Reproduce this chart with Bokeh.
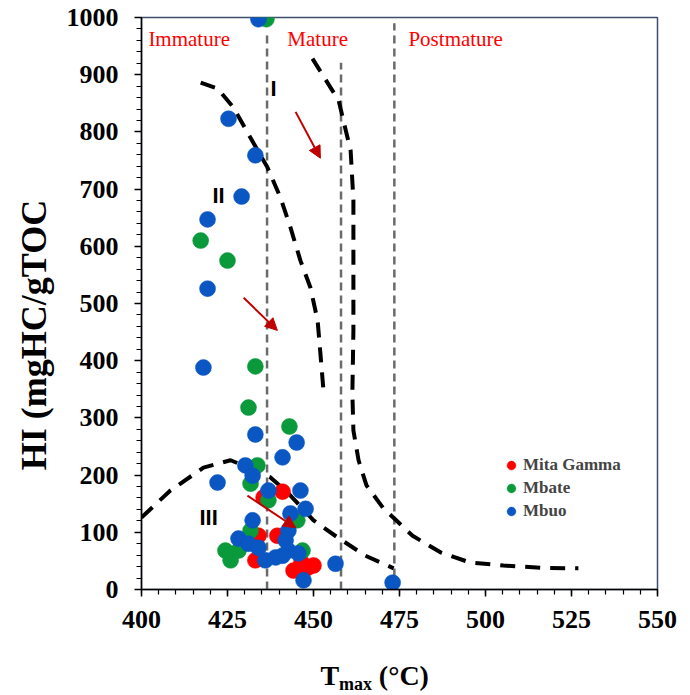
from bokeh.plotting import figure
from bokeh.layouts import column
from bokeh.models import (Range1d, SingleIntervalTicker, Legend, LegendItem, Label,
                          Arrow, NormalHead, ColumnDataSource)
from bokeh.core.properties import value
from bokeh.embed import file_html
from bokeh.resources import INLINE

# ---------------- data ----------------
mita_tmax = [435.5, 441.0, 439.5, 434.0, 433.1, 444.2, 450.0, 448.3, 446.5]
mita_hi = [161, 171, 94, 94, 51, 33, 42, 38, 48]

mbate_tmax = [436.3, 417.2, 425.0, 433.1, 431.1, 443.0, 433.7, 431.7, 436.9, 445.3,
              431.7, 424.4, 425.9, 428.2, 446.8]
mbate_hi = [997, 610, 575, 390, 318, 285, 217, 185, 156, 121,
            103, 68, 51, 68, 68]

mbuo_tmax = [434.0, 425.3, 433.1, 429.1, 419.2, 419.2, 418.0, 433.1, 445.1, 441.0,
             422.1, 430.2, 432.3, 436.9, 446.2, 447.7, 443.3, 432.3, 442.7, 428.2,
             431.1, 434.0, 441.9, 442.7, 445.6, 441.0, 436.0, 439.0, 447.1, 456.4,
             473.0]
mbuo_hi = [997, 823, 759, 687, 647, 526, 388, 271, 257, 231,
           187, 217, 199, 173, 173, 141, 133, 121, 103, 89,
           80, 73, 86, 68, 63, 59, 51, 56, 16, 45,
           12]

# kerogen type curves
curve1_tmax = [449.7, 457.3, 460.8, 461.6, 461.6, 461.6, 461.3, 461.6, 463.1, 465.4,
               470.3, 478.8, 486.9, 495.6, 505.2, 516.0, 527.0]
curve1_hi = [928, 855, 767, 680, 558, 453, 343, 278, 226, 182,
             142, 94, 65, 47, 42, 38, 37]
curve2_tmax = [417.2, 422.1, 426.7, 432.6, 436.6, 440.4, 443.3, 446.2, 449.1, 451.2,
               452.0, 452.9]
curve2_hi = [886, 876, 843, 780, 738, 685, 633, 575, 528, 470, 413, 348]
curve3_tmax = [400.0, 408.4, 418.0, 425.9, 433.1, 437.5, 442.7, 450.0, 457.0, 465.1,
               473.3]
curve3_hi = [126, 173, 213, 226, 208, 196, 168, 121, 91, 59, 37]

# maturity boundaries (Tmax) and their top HI extent
boundary_tmax = [436.5, 458.0, 473.5]
boundary_top = [974, 921, 990]

zone_names = ["Immature", "Mature", "Postmature"]
zone_tmax = [402.0, 442.4, 477.6]
zone_hi = [963, 963, 963]

type_names = ["I", "II", "III"]
type_tmax = [438.4, 422.4, 419.5]
type_hi = [876, 689, 126]

arrow_start_tmax = [444.8, 429.7, 430.8]
arrow_start_hi = [835, 510, 164]
arrow_end_tmax = [452.0, 439.5, 444.8]
arrow_end_hi = [754, 453, 108]

series_names = ["Mita Gamma", "Mbate", "Mbuo"]
series_colors = ["#FF0000", "#0A9A3C", "#0A56C2"]

x_title_parts = ["T", "max", "(°C)"]
y_title = "HI (mgHC/gTOC"

FONT = "Liberation Serif"

# ---------------- main figure ----------------
p = figure(width=690, height=650, output_backend="svg", toolbar_location=None,
           x_range=Range1d(400, 550), y_range=Range1d(0, 1000),
           min_border_left=141, min_border_right=33, min_border_top=17,
           min_border_bottom=61)
p.background_fill_color = "white"
p.border_fill_color = "white"
p.outline_line_color = "#3F4F6B"
p.outline_line_width = 1.5
p.xgrid.grid_line_color = None
p.ygrid.grid_line_color = None

p.xaxis.ticker = SingleIntervalTicker(interval=25, num_minor_ticks=5)
p.yaxis.ticker = SingleIntervalTicker(interval=100, num_minor_ticks=5)
for ax in (p.xaxis, p.yaxis):
    ax.axis_line_color = "black"
    ax.axis_line_width = 1.5
    ax.major_tick_line_color = "black"
    ax.minor_tick_line_color = "black"
    ax.major_tick_line_width = 1.5
    ax.minor_tick_line_width = 1.2
    ax.major_tick_in = 0
    ax.major_tick_out = 7
    ax.minor_tick_in = 0
    ax.minor_tick_out = 5
    ax.major_label_text_font = FONT
    ax.major_label_text_font_style = "bold"
    ax.major_label_text_font_size = "26px"
    ax.major_label_text_color = "black"
p.yaxis.major_label_standoff = 16
p.xaxis.major_label_standoff = 14
p.yaxis.axis_label = y_title + "\u00a0" * 7
p.yaxis.axis_label_text_font = FONT
p.yaxis.axis_label_text_font_style = "bold"
p.yaxis.axis_label_text_font_size = "36px"
p.yaxis.axis_label_standoff = 10
p.yaxis.axis_label_text_color = "black"

# maturity boundary lines
for bx, bt in zip(boundary_tmax, boundary_top):
    p.line([bx, bx], [0, bt], line_color="#6B6B6B", line_width=2.5, line_dash="8 5")

# kerogen curves
for cx, cy in ((curve1_tmax, curve1_hi), (curve2_tmax, curve2_hi), (curve3_tmax, curve3_hi)):
    p.line(cx, cy, line_color="black", line_width=4, line_dash="15 10")

# arrows
for xs, ys, xe, ye in zip(arrow_start_tmax, arrow_start_hi, arrow_end_tmax, arrow_end_hi):
    p.add_layout(Arrow(x_start=xs, y_start=ys, x_end=xe, y_end=ye,
                       line_color="#C00000", line_width=2,
                       end=NormalHead(size=12, fill_color="#C00000", line_color="#C00000")))

# data points
renderers = []
for name, col, xs, ys in zip(series_names, series_colors,
                             [mita_tmax, mbate_tmax, mbuo_tmax],
                             [mita_hi, mbate_hi, mbuo_hi]):
    src = ColumnDataSource(dict(x=xs, y=ys))
    r = p.scatter("x", "y", source=src, size=16, marker="circle",
                  fill_color=col, line_color=col, line_width=0.5)
    renderers.append(r)

legend = Legend(items=[LegendItem(label=n, renderers=[r]) for n, r in zip(series_names, renderers)],
                location=(359, 67), orientation="vertical")
legend.label_text_font = FONT
legend.label_text_font_style = "bold"
legend.label_text_font_size = "17px"
legend.label_standoff = 1
legend.glyph_width = 22
legend.glyph_height = 22
legend.label_height = 22
legend.spacing = 1
legend.padding = 2
legend.margin = 0
legend.border_line_color = None
legend.background_fill_alpha = 0
p.add_layout(legend)

# zone labels
for t, x, y in zip(zone_names, zone_tmax, zone_hi):
    p.add_layout(Label(x=x, y=y, text=t, text_font=FONT, text_font_size="21px",
                       text_color="#FF0000", text_baseline="middle", text_align="left"))

# kerogen type labels
for t, x, y in zip(type_names, type_tmax, type_hi):
    p.add_layout(Label(x=x, y=y, text=t, text_font="Liberation Sans", text_font_size="22px",
                       text_font_style="bold", text_color="black",
                       text_baseline="middle", text_align="center"))

# ---------------- x-axis title strip ----------------
p2 = figure(width=690, height=45, output_backend="svg", toolbar_location=None,
            x_range=Range1d(400, 550), y_range=Range1d(0, 45),
            min_border_left=141, min_border_right=33, min_border_top=0, min_border_bottom=0)
p2.xaxis.visible = False
p2.yaxis.visible = False
p2.xgrid.grid_line_color = None
p2.ygrid.grid_line_color = None
p2.outline_line_color = None
p2.background_fill_color = "white"
p2.border_fill_color = "white"
title_x = [452.0, 457.4, 469.0]
title_y = [20, 12, 20]
title_size = ["28px", "18px", "28px"]
for t, x, y, s in zip(x_title_parts, title_x, title_y, title_size):
    p2.text(x=[x], y=[y], text=[t], text_font=value(FONT), text_font_size=value(s),
            text_font_style="bold", text_color="black",
            text_baseline="middle", text_align="left")

layout = column(p, p2, spacing=0)
open("out.html", "w").write(file_html(layout, INLINE))
